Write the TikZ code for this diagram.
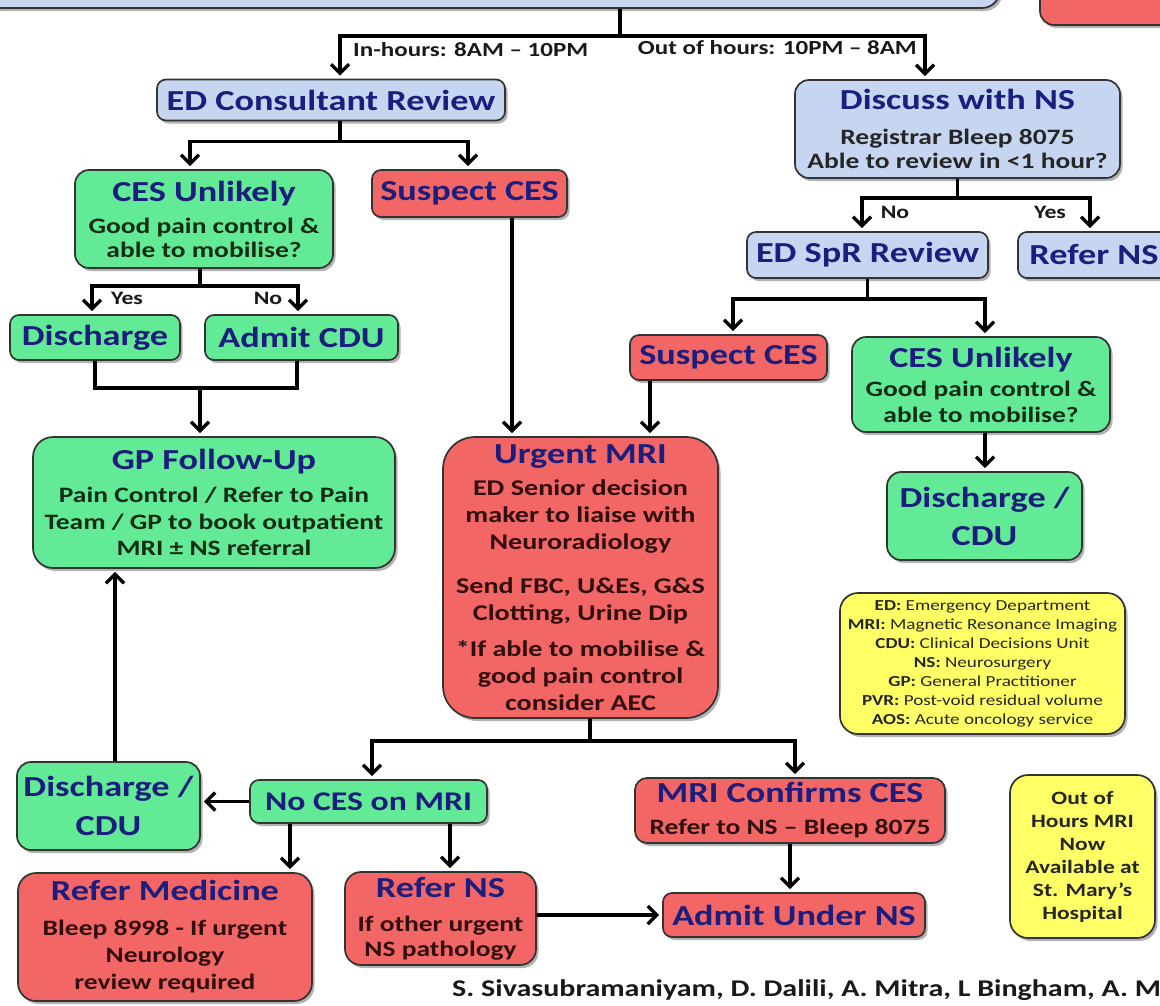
\documentclass[tikz,border=0pt]{standalone}
\usepackage{fontspec}
\setmainfont{Carlito}[FakeStretch=1.25]
\usetikzlibrary{arrows.meta,shadows,calc}
\definecolor{navy}{RGB}{28,30,125}
\definecolor{gfill}{RGB}{98,234,150}
\definecolor{rfill}{RGB}{242,102,102}
\definecolor{bfill}{RGB}{198,214,240}
\definecolor{yfill}{RGB}{255,255,102}
\definecolor{gtext}{RGB}{20,45,20}
\definecolor{rtext}{RGB}{50,15,15}
\newcommand{\hd}[1]{{\fontsize{29}{31}\selectfont\color{navy}#1}}
\tikzset{
 box/.style={draw=black!80, line width=1.7pt, rounded corners=9pt, align=center, inner sep=0pt,
   font=\bfseries\fontsize{22}{26}\selectfont,
   drop shadow={shadow xshift=2.5pt, shadow yshift=-3pt, opacity=0.3, fill=black}},
 bbox/.style={box, fill=bfill, text=black!85},
 gbox/.style={box, fill=gfill, text=gtext},
 rbox/.style={box, fill=rfill, text=rtext},
 ybox/.style={box, fill=yfill, text=black!85},
 wire/.style={line width=3.4pt, draw=black},
 arr/.style={wire, -{Straight Barb[length=9pt,width=18pt]}, shorten >=3pt},
 lbl/.style={font=\bfseries\fontsize{20}{22}\selectfont, inner sep=0pt, text=black!90},
 yn/.style={lbl, font=\bfseries\fontsize{19}{21}\selectfont},
}
\begin{document}
\begin{tikzpicture}[x=1pt,y=-1pt]
\useasboundingbox (0,0) rectangle (1160,1005);
\fill[white] (0,0) rectangle (1160,1005);
\clip (0,0) rectangle (1160,1005);

% top (cropped) boxes
\node[bbox, minimum width=1020pt, minimum height=60pt, rounded corners=18pt] (top) at (490,-22) {};
\node[rbox, minimum width=140pt, minimum height=60pt, rounded corners=14pt] (topred) at (1110,-5) {};

% left / in-hours branch
\node[bbox, minimum width=348pt, minimum height=41pt] (edcons) at (331,100) {\hd{ED Consultant Review}};
\node[gbox, minimum width=258pt, minimum height=98pt, rounded corners=14pt, font=\bfseries\fontsize{22}{24}\selectfont] (cesl) at (204,219)
  {\hd{CES Unlikely}\\[8pt]Good pain control \&\\able to mobilise?};
\node[rbox, minimum width=195pt, minimum height=47pt] (suspl) at (469.5,193.5) {\hd{Suspect CES}};
\node[gbox, minimum width=170pt, minimum height=45pt] (disch) at (95,337.5) {\hd{Discharge}};
\node[gbox, minimum width=193pt, minimum height=45pt] (admit) at (301.5,337.5) {\hd{Admit CDU}};
\node[gbox, minimum width=362pt, minimum height=131pt, rounded corners=20pt, font=\bfseries\fontsize{22}{26.5}\selectfont] (gp) at (214,502.5)
  {\hd{GP Follow-Up}\\[6.5pt]Pain Control / Refer to Pain\\Team / GP to book outpatient\\MRI ± NS referral};
\node[rbox, minimum width=275pt, minimum height=281pt, rounded corners=32pt, font=\bfseries\fontsize{22.5}{27}\selectfont] (mri) at (580.5,577.5)
  {\hd{Urgent MRI}\\[5pt]ED Senior decision\\maker to liaise with\\Neuroradiology\\[17pt]Send FBC, U\&Es, G\&S\\Clotting, Urine Dip\\[9pt]*If able to mobilise \&\\good pain control\\consider AEC};

% right / out-of-hours branch
\node[bbox, minimum width=325pt, minimum height=98pt, rounded corners=14pt, font=\bfseries\fontsize{22}{24}\selectfont] (discuss) at (957.5,129)
  {\hd{Discuss with NS}\\[11pt]Registrar Bleep 8075\\Able to review in <1 hour?};
\node[bbox, minimum width=241pt, minimum height=46pt] (spr) at (867.5,255) {\hd{ED SpR Review}};
\node[bbox, minimum width=152pt, minimum height=46pt] (refns1) at (1094,255) {\hd{Refer NS}};
\node[rbox, minimum width=197pt, minimum height=45pt] (suspr) at (728.5,357.5) {\hd{Suspect CES}};
\node[gbox, minimum width=258pt, minimum height=95pt, rounded corners=14pt, font=\bfseries\fontsize{22}{26}\selectfont] (cesr) at (981,384.5)
  {\hd{CES Unlikely}\\[3pt]Good pain control \&\\able to mobilise?};
\node[gbox, minimum width=195pt, minimum height=88pt, rounded corners=14pt, font=\bfseries\fontsize{29}{38}\selectfont] (dischr) at (984.5,516)
  {\hd{Discharge /}\\\hd{CDU}};
\node[ybox, minimum width=285pt, minimum height=141pt, rounded corners=18pt, font=\fontsize{15.3}{19}\selectfont] (legend) at (982.5,663.5)
  {\textbf{ED:} Emergency Department\\\textbf{MRI:} Magnetic Resonance Imaging\\\textbf{CDU:} Clinical Decisions Unit\\\textbf{NS:} Neurosurgery\\\textbf{GP:} General Practitioner\\\textbf{PVR:} Post-void residual volume\\\textbf{AOS:} Acute oncology service};

% after MRI
\node[gbox, minimum width=237pt, minimum height=43pt] (nocesl) at (368.5,801.5) {{\fontsize{27}{29}\selectfont\color{navy}No CES on MRI}};
\node[gbox, minimum width=183pt, minimum height=88pt, rounded corners=14pt, font=\bfseries\fontsize{29}{39}\selectfont] (dischl) at (108.5,806)
  {\hd{Discharge /}\\\hd{CDU}};
\node[rbox, minimum width=310pt, minimum height=65pt, rounded corners=12pt] (confirms) at (790,810.5)
  {\hd{MRI Confirms CES}\\[6pt]Refer to NS – Bleep 8075};
\node[rbox, minimum width=262pt, minimum height=44pt] (admitns) at (794,915) {\hd{Admit Under NS}};
\node[rbox, minimum width=294pt, minimum height=128pt, rounded corners=18pt, font=\bfseries\fontsize{22}{27}\selectfont] (refmed) at (165,937)
  {\hd{Refer Medicine}\\[8pt]Bleep 8998 - If urgent\\Neurology\\review required};
\node[rbox, minimum width=191pt, minimum height=93pt, rounded corners=16pt, font=\bfseries\fontsize{22}{25}\selectfont] (refns2) at (440.5,918.5)
  {\hd{Refer NS}\\[9pt]If other urgent\\NS pathology};
\node[ybox, minimum width=145pt, minimum height=163pt, rounded corners=18pt, font=\bfseries\fontsize{18.8}{23}\selectfont] (ooh) at (1082.5,856.5)
  {Out of\\Hours MRI\\Now\\Available at\\St. Mary’s\\Hospital};

\node[anchor=west, inner sep=0pt, font=\bfseries\fontsize{24}{26}\selectfont, text=black!90] (author) at (452,990)
  {S. Sivasubramaniyam, D. Dalili, A. Mitra, L Bingham, A. M};

% labels
\node[lbl, anchor=west] (inh) at (353,50) {In-hours: 8AM – 10PM};
\node[lbl, anchor=east] (ooh2) at (917,48) {Out of hours: 10PM – 8AM};
\node[yn] (yes1) at (127,298) {Yes};
\node[yn] (no1) at (268,298) {No};
\node[yn] (no2) at (895,212) {No};
\node[yn] (yes2) at (1050,212) {Yes};

% connectors
\draw[wire] ([xshift=130pt]top.south) -- ++(0,27) coordinate (j1);
\draw[arr] (j1) -| ([xshift=9pt]edcons.north);
\draw[arr] (j1) -| ([xshift=-32.5pt]discuss.north);

\draw[wire] ([xshift=9pt]edcons.south) -- ++(0,20) coordinate (j2);
\draw[arr] (j2) -| ([xshift=-14pt]cesl.north);
\draw[arr] (j2) -| ([xshift=-1.5pt]suspl.north);

\draw[wire] ([xshift=-4pt]cesl.south) -- ++(0,17) coordinate (j3);
\draw[arr] (j3) -| ([xshift=-3pt]disch.north);
\draw[arr] (j3) -| ([xshift=-3.5pt]admit.north);

\coordinate (j4) at (200,388);
\draw[wire] (disch.south) |- (j4);
\draw[wire] ([xshift=-4.5pt]admit.south) |- (j4);
\draw[arr] (j4) -- (j4 |- gp.north);

\draw[arr] ([xshift=6.5pt]dischl.north) -- ([xshift=-99pt]gp.south);
\draw[arr] ([xshift=42.5pt]suspl.south) -- ([xshift=-68.5pt]mri.north);

\draw[wire] (discuss.south) -- ++(0,19) coordinate (j5);
\draw[arr] (j5) -| ([xshift=-5.5pt]spr.north);
\draw[arr] (j5) -| ([xshift=-4pt]refns1.north);

\draw[wire] (spr.south) -- ++(0,20) coordinate (j6);
\draw[arr] (j6) -| ([xshift=4.5pt]suspr.north);
\draw[arr] (j6) -| ([xshift=4pt]cesr.north);

\draw[arr] ([xshift=-78.5pt]suspr.south) -- ([xshift=69.5pt]mri.north);
\draw[arr] ([xshift=4pt]cesr.south) -- ([xshift=0.5pt]dischr.north);

\draw[wire] ([xshift=9.5pt]mri.south) -- ++(0,22) coordinate (j7);
\draw[arr] (j7) -| ([xshift=3.5pt]nocesl.north);
\draw[arr] (j7) -| ([xshift=5pt]confirms.north);

\draw[arr] (nocesl.west) -- (nocesl.west -| dischl.east);
\draw[arr] ([xshift=-78.5pt]nocesl.south) -- ([xshift=125pt]refmed.north);
\draw[arr] ([xshift=81.5pt]nocesl.south) -- ([xshift=9.5pt]refns2.north);
\draw[arr] (refns2.east |- admitns.west) -- (admitns.west);
\draw[arr] (confirms.south) -- (confirms.south |- admitns.north);
\end{tikzpicture}
\end{document}
